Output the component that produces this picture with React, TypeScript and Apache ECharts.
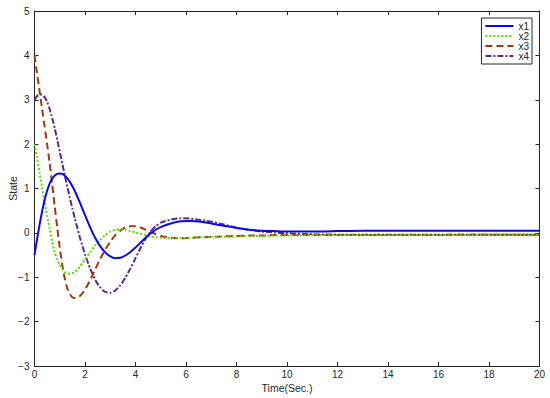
import React, { useEffect, useRef } from "react";
import * as echarts from "echarts";

const T = [0,0.1,0.2,0.3,0.4,0.5,0.6,0.7,0.8,0.9,1.0,1.1,1.2,1.3,1.4,1.5,1.6,1.7,1.8,1.9,2.0,2.2,2.4,2.6,2.8,3.0,3.2,3.4,3.6,3.8,4.0,4.2,4.4,4.6,4.8,5.0,5.4,5.8,6.2,6.6,7.0,7.5,8.0,8.5,9.0,9.5,10,11,12,13,14,15,16,17,18,19,20];

const x1 = [-0.5,-0.15,0.18,0.48,0.74,0.95,1.11,1.22,1.29,1.33,1.34,1.33,1.29,1.23,1.15,1.05,0.94,0.81,0.68,0.54,0.40,0.13,-0.11,-0.30,-0.44,-0.53,-0.57,-0.56,-0.51,-0.43,-0.33,-0.22,-0.11,-0.01,0.07,0.13,0.21,0.26,0.27,0.25,0.21,0.16,0.11,0.07,0.05,0.04,0.03,0.03,0.04,0.05,0.05,0.05,0.05,0.05,0.05,0.05,0.05];
const x2 = [2.0,1.70,1.36,1.02,0.68,0.38,0.10,-0.20,-0.44,-0.60,-0.72,-0.82,-0.88,-0.91,-0.92,-0.91,-0.88,-0.83,-0.76,-0.68,-0.60,-0.44,-0.29,-0.16,-0.05,0.03,0.07,0.08,0.07,0.04,0.01,-0.02,-0.05,-0.08,-0.10,-0.11,-0.12,-0.12,-0.11,-0.10,-0.10,-0.09,-0.08,-0.07,-0.07,-0.06,-0.06,-0.05,-0.05,-0.05,-0.05,-0.05,-0.05,-0.05,-0.04,-0.04,-0.04];
const x3 = [4.0,3.60,3.20,2.80,2.40,2.00,1.57,1.10,0.60,0.12,-0.33,-0.72,-1.03,-1.25,-1.38,-1.45,-1.47,-1.46,-1.42,-1.36,-1.28,-1.07,-0.83,-0.59,-0.38,-0.20,-0.05,0.05,0.12,0.15,0.15,0.12,0.07,0.02,-0.03,-0.07,-0.11,-0.12,-0.11,-0.10,-0.09,-0.08,-0.07,-0.06,-0.06,-0.05,-0.05,-0.05,-0.05,-0.05,-0.05,-0.05,-0.05,-0.04,-0.04,-0.04,-0.04];
const x4 = [3.0,3.08,3.12,3.12,3.06,2.95,2.79,2.59,2.36,2.10,1.83,1.56,1.30,1.04,0.79,0.55,0.32,0.10,-0.11,-0.30,-0.48,-0.80,-1.05,-1.23,-1.33,-1.35,-1.30,-1.18,-1.01,-0.80,-0.57,-0.34,-0.13,0.03,0.15,0.23,0.30,0.33,0.32,0.29,0.25,0.19,0.12,0.07,0.03,0.01,-0.01,-0.03,-0.04,-0.04,-0.04,-0.04,-0.04,-0.04,-0.04,-0.04,-0.04];

const seriesNames = ["x1", "x2", "x3", "x4"];
const xTicks = [0, 20, 2];
const yTicks = [-3, 5, 1];

export default function App() {
  const ref = useRef<HTMLDivElement>(null);
  useEffect(() => {
    document.body.style.margin = "0";
    if (!ref.current) return;
    const chart = echarts.init(ref.current, null, { renderer: "svg" });
    const font = "Liberation Sans, Arial, sans-serif";
    const axisColor = "#262626";
    const pair = (ys: number[]) => T.map((t, i) => [t, ys[i]]);
    const styles = [
      { color: "#0a0ae6", type: "solid" as any, width: 2 },
      { color: "#5fd400", type: [2, 2] as any, width: 2 },
      { color: "#9e3a12", type: [7, 4] as any, width: 2 },
      { color: "#5b2a86", type: [6, 2, 2, 2] as any, width: 2 },
    ];
    const datas = [x1, x2, x3, x4];
    const fmt = (v: number) => String(v).replace("-", "\u2212");
    chart.setOption({
      animation: false,
      backgroundColor: "#ffffff",
      textStyle: { fontFamily: font },
      grid: { left: 34.5, right: 10.5, top: 11, bottom: 32, containLabel: false, outerBoundsMode: "none" },
      legend: {
        orient: "vertical",
        right: 18,
        top: 18,
        backgroundColor: "#fff",
        borderColor: axisColor,
        borderWidth: 1,
        padding: [3, 3, 3, 3],
        itemGap: 0,
        itemWidth: 28,
        itemHeight: 8,
        itemStyle: { opacity: 0 },
        textStyle: { fontSize: 10, lineHeight: 10, color: axisColor, fontFamily: font },
        data: seriesNames,
      },
      xAxis: [
        {
          type: "value",
          min: xTicks[0],
          max: xTicks[1],
          interval: xTicks[2],
          name: "Time(Sec.)",
          nameLocation: "middle",
          nameGap: 16,
          nameMoveOverlap: false,
          nameTextStyle: { fontSize: 10.5, color: axisColor },
          axisLine: { onZero: false, lineStyle: { color: axisColor, width: 1 } },
          axisTick: { inside: true, length: 4, lineStyle: { color: axisColor } },
          axisLabel: { fontSize: 10, color: axisColor, margin: 3, formatter: fmt },
          splitLine: { show: false },
        },
        {
          type: "value",
          position: "top",
          min: xTicks[0],
          max: xTicks[1],
          interval: xTicks[2],
          axisLine: { onZero: false, lineStyle: { color: axisColor, width: 1 } },
          axisTick: { inside: true, length: 4, lineStyle: { color: axisColor } },
          axisLabel: { show: false },
          splitLine: { show: false },
        },
      ],
      yAxis: [
        {
          type: "value",
          min: yTicks[0],
          max: yTicks[1],
          interval: yTicks[2],
          name: "State",
          nameLocation: "middle",
          nameGap: 16,
          nameMoveOverlap: false,
          nameTextStyle: { fontSize: 10.5, color: axisColor },
          axisLine: { show: true, onZero: false, lineStyle: { color: axisColor, width: 1 } },
          axisTick: { show: true, inside: true, length: 4, lineStyle: { color: axisColor } },
          axisLabel: { fontSize: 10, color: axisColor, margin: 5, formatter: fmt },
          splitLine: { show: false },
        },
        {
          type: "value",
          position: "right",
          min: yTicks[0],
          max: yTicks[1],
          interval: yTicks[2],
          axisLine: { show: true, onZero: false, lineStyle: { color: axisColor, width: 1 } },
          axisTick: { show: true, inside: true, length: 4, lineStyle: { color: axisColor } },
          axisLabel: { show: false },
          splitLine: { show: false },
        },
      ],
      series: seriesNames.map((name, i) => ({
        name,
        type: "line",
        data: pair(datas[i]),
        showSymbol: false,
        symbol: "none",
        smooth: 0.2,
        lineStyle: styles[i],
        itemStyle: { color: styles[i].color },
        z: 10 - i,
      })),
    });
    return () => chart.dispose();
  }, []);
  return <div ref={ref} style={{ width: 550, height: 398 }} />;
}
